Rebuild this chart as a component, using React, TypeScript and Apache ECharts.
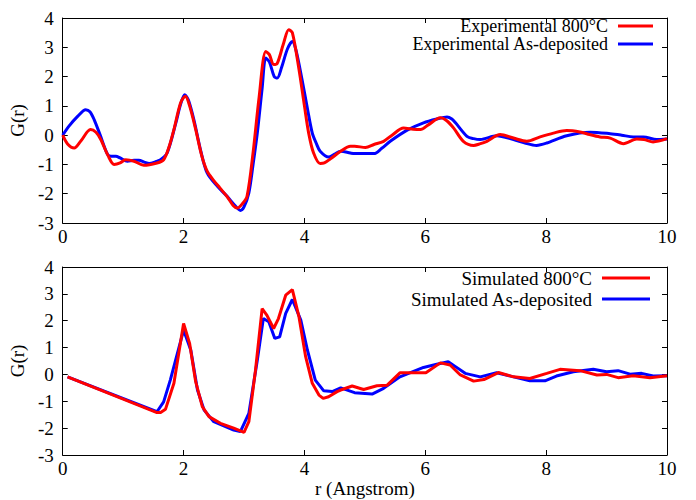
import React, { useEffect, useRef } from "react";
import * as echarts from "echarts";

const xTicks = [0, 2, 4, 6, 8, 10];
const yRange = [-3, 4];

const expLabels = ["Experimental 800°C", "Experimental As-deposited"];
const simLabels = ["Simulated 800°C", "Simulated As-deposited"];

const exp800: number[][] = [
  [0, 0], [0.08, -0.3], [0.19, -0.44], [0.3, -0.2], [0.46, 0.19], [0.55, 0.1], [0.63, -0.15], [0.75, -0.7],
  [0.85, -1.0], [0.95, -0.95], [1.04, -0.84], [1.18, -0.89], [1.34, -1.03], [1.56, -0.95], [1.67, -0.84],
  [1.76, -0.4], [1.84, 0.19], [1.95, 1.1], [2.03, 1.33], [2.1, 1.0], [2.2, 0.2], [2.3, -0.7], [2.39, -1.23],
  [2.5, -1.55], [2.6, -1.8], [2.72, -2.1], [2.82, -2.4], [2.89, -2.49], [2.97, -2.35], [3.05, -2.09],
  [3.15, -0.6], [3.25, 1.3], [3.36, 2.86], [3.42, 2.75], [3.49, 2.41], [3.55, 2.45], [3.65, 3.1], [3.74, 3.6],
  [3.8, 3.5], [3.91, 2.24], [4.0, 1.0], [4.07, 0.07], [4.15, -0.6], [4.26, -0.97], [4.33, -0.95], [4.43, -0.81],
  [4.6, -0.55], [4.76, -0.38], [4.83, -0.38], [5.01, -0.42], [5.15, -0.32], [5.31, -0.21], [5.45, 0.0],
  [5.64, 0.24], [5.8, 0.2], [5.92, 0.19], [6.05, 0.35], [6.25, 0.59], [6.35, 0.5], [6.47, 0.24], [6.63, -0.21],
  [6.8, -0.35], [6.9, -0.3], [7.02, -0.21], [7.24, 0.02], [7.46, -0.1], [7.68, -0.21], [7.9, -0.06],
  [8.12, 0.07], [8.34, 0.16], [8.56, 0.11], [8.72, 0.02], [8.89, -0.06], [9.06, -0.1], [9.28, -0.29],
  [9.5, -0.13], [9.62, -0.15], [9.77, -0.23], [10, -0.12],
];

const expAs: number[][] = [
  [0, 0], [0.1, 0.3], [0.25, 0.65], [0.38, 0.87], [0.45, 0.8], [0.52, 0.53], [0.62, 0.0], [0.74, -0.65],
  [0.8, -0.72], [0.88, -0.72], [0.95, -0.78], [1.07, -0.89], [1.18, -0.86], [1.26, -0.86], [1.35, -0.92],
  [1.43, -0.97], [1.55, -0.9], [1.62, -0.84], [1.73, -0.6], [1.87, 0.4], [1.95, 1.05], [2.02, 1.38],
  [2.08, 1.2], [2.17, 0.53], [2.28, -0.5], [2.39, -1.29], [2.56, -1.75], [2.72, -2.09], [2.85, -2.4],
  [2.94, -2.57], [3.0, -2.45], [3.08, -1.97], [3.15, -1.0], [3.22, 0.07], [3.3, 1.6], [3.36, 2.63],
  [3.42, 2.5], [3.5, 2.0], [3.55, 1.95], [3.62, 2.3], [3.72, 2.95], [3.8, 3.2], [3.86, 2.9], [3.96, 1.9],
  [4.05, 0.9], [4.13, 0.07], [4.2, -0.3], [4.26, -0.55], [4.4, -0.75], [4.5, -0.65], [4.6, -0.55],
  [4.76, -0.61], [4.83, -0.63], [5.15, -0.63], [5.28, -0.45], [5.42, -0.21], [5.7, 0.17], [5.97, 0.42],
  [6.19, 0.55], [6.36, 0.62], [6.44, 0.55], [6.5, 0.42], [6.69, -0.04], [6.8, -0.12], [6.91, -0.15],
  [7.18, -0.02], [7.46, -0.15], [7.65, -0.27], [7.84, -0.35], [8.01, -0.27], [8.34, -0.02], [8.73, 0.1],
  [9.06, 0.05], [9.25, 0.0], [9.44, -0.06], [9.61, -0.06], [9.83, -0.15], [10, -0.13],
];

const sim800: number[][] = [
  [0.08, -0.09], [1.56, -1.42], [1.62, -1.42], [1.7, -1.3], [1.84, -0.33], [2.0, 1.9], [2.1, 1.15],
  [2.2, -0.27], [2.31, -1.2], [2.42, -1.57], [2.61, -1.82], [2.83, -2.0], [3.0, -2.16], [3.08, -1.76],
  [3.19, 0.16], [3.3, 2.45], [3.38, 2.2], [3.49, 1.71], [3.57, 2.08], [3.69, 2.95], [3.8, 3.16], [3.91, 2.14],
  [4.02, 0.66], [4.13, -0.33], [4.24, -0.77], [4.31, -0.89], [4.4, -0.83], [4.54, -0.64], [4.6, -0.58],
  [4.79, -0.43], [4.98, -0.56], [5.2, -0.42], [5.37, -0.4], [5.58, 0.06], [5.75, 0.06], [6.01, 0.06],
  [6.25, 0.43], [6.41, 0.35], [6.58, -0.02], [6.8, -0.25], [6.97, -0.19], [7.21, 0.07], [7.46, -0.09],
  [7.73, -0.15], [8.01, 0.04], [8.23, 0.19], [8.56, 0.14], [8.84, -0.02], [9.0, 0.0], [9.19, -0.12],
  [9.44, -0.05], [9.72, -0.12], [10, -0.05],
];

const simAs: number[][] = [
  [0.08, -0.09], [1.56, -1.39], [1.67, -1.02], [1.78, -0.21], [2.0, 1.65], [2.12, 0.9], [2.23, -0.58],
  [2.34, -1.33], [2.5, -1.76], [2.83, -2.07], [2.94, -2.13], [3.08, -1.45], [3.22, 0.53], [3.32, 2.08],
  [3.41, 1.96], [3.51, 1.34], [3.59, 1.4], [3.69, 2.27], [3.8, 2.79], [3.94, 2.02], [4.05, 0.9],
  [4.18, -0.21], [4.32, -0.61], [4.46, -0.64], [4.6, -0.5], [4.83, -0.68], [5.12, -0.73], [5.31, -0.52],
  [5.58, -0.09], [5.97, 0.26], [6.19, 0.38], [6.38, 0.47], [6.5, 0.29], [6.66, 0.04], [6.91, -0.09],
  [7.18, 0.06], [7.46, -0.09], [7.73, -0.24], [7.98, -0.24], [8.17, -0.06], [8.45, 0.1], [8.78, 0.19],
  [9.0, 0.1], [9.19, 0.14], [9.39, 0.01], [9.58, 0.04], [9.77, -0.06], [10, -0.05],
];

const FONT = "Liberation Serif";
const RED = "#ff0000";
const BLUE = "#0000ff";

function axisBase(showLabel: boolean) {
  return {
    axisLine: { show: true, onZero: false, lineStyle: { color: "#000", width: 1 } },
    axisTick: { show: true, inside: true, length: 5, lineStyle: { color: "#000" } },
    splitLine: { show: false },
    axisLabel: { show: showLabel, color: "#000", fontFamily: FONT, fontSize: 19 },
  };
}

export default function App() {
  const ref = useRef<HTMLDivElement>(null);
  useEffect(() => {
    document.body.style.margin = "0";
    const chart = echarts.init(ref.current!, null, { renderer: "svg" });
    const grids = [
      { left: 62, top: 18, width: 605, height: 205 },
      { left: 62, top: 267, width: 605, height: 188 },
    ];
    const xAxes: any[] = [];
    const yAxes: any[] = [];
    [0, 1].forEach((g) => {
      const b1 = axisBase(true);
      xAxes.push({
        type: "value", gridIndex: g, min: xTicks[0], max: xTicks[xTicks.length - 1], interval: 2,
        position: "bottom", ...b1,
        axisLabel: { ...b1.axisLabel, margin: 4 },
        ...(g === 1
          ? { name: "r (Angstrom)", nameLocation: "middle", nameGap: 24,
              nameTextStyle: { color: "#000", fontFamily: FONT, fontSize: 19 } }
          : {}),
      });
      xAxes.push({
        type: "value", gridIndex: g, min: 0, max: 10, interval: 2, position: "top", ...axisBase(false),
      });
      const b2 = axisBase(true);
      yAxes.push({
        type: "value", gridIndex: g, min: yRange[0], max: yRange[1], interval: 1, position: "left", ...b2,
        axisLabel: { ...b2.axisLabel, margin: 9 },
        name: "G(r)", nameLocation: "middle", nameGap: 33,
        nameTextStyle: { color: "#000", fontFamily: FONT, fontSize: 19 },
      });
      yAxes.push({
        type: "value", gridIndex: g, min: yRange[0], max: yRange[1], interval: 1, position: "right", ...axisBase(false),
      });
    });
    const line = (name: string, data: number[][], color: string, g: number, smooth: number | boolean) => ({
      name, type: "line", data, xAxisIndex: g * 2, yAxisIndex: g * 2, showSymbol: false, symbol: "none",
      smooth, lineStyle: { color, width: 3 }, itemStyle: { color },
    });
    const legendItem = (text: string, y: number, color: string, textRight: number, x1: number, x2: number, fs: number) => [
      { type: "text", x: textRight, y, style: { text, fill: "#000", fontFamily: FONT, fontSize: fs,
        textAlign: "right", textVerticalAlign: "middle" } },
      { type: "line", shape: { x1, y1: y, x2, y2: y }, style: { stroke: color, lineWidth: 3 } },
    ];
    chart.setOption({
      animation: false,
      backgroundColor: "#fff",
      grid: grids,
      xAxis: xAxes,
      yAxis: yAxes,
      series: [
        line(expLabels[1], expAs, BLUE, 0, 0.3),
        line(expLabels[0], exp800, RED, 0, 0.3),
        line(simLabels[1], simAs, BLUE, 1, false),
        line(simLabels[0], sim800, RED, 1, false),
      ],
      graphic: [
        ...legendItem(expLabels[0], 26, RED, 608, 618, 653, 18),
        ...legendItem(expLabels[1], 44, BLUE, 608, 618, 653, 18),
        ...legendItem(simLabels[0], 278, RED, 592, 602, 650, 19),
        ...legendItem(simLabels[1], 299, BLUE, 592, 602, 650, 19),
      ],
    });
    return () => chart.dispose();
  }, []);
  return <div ref={ref} style={{ position: "fixed", left: 0, top: 0, width: 696, height: 500 }} />;
}
